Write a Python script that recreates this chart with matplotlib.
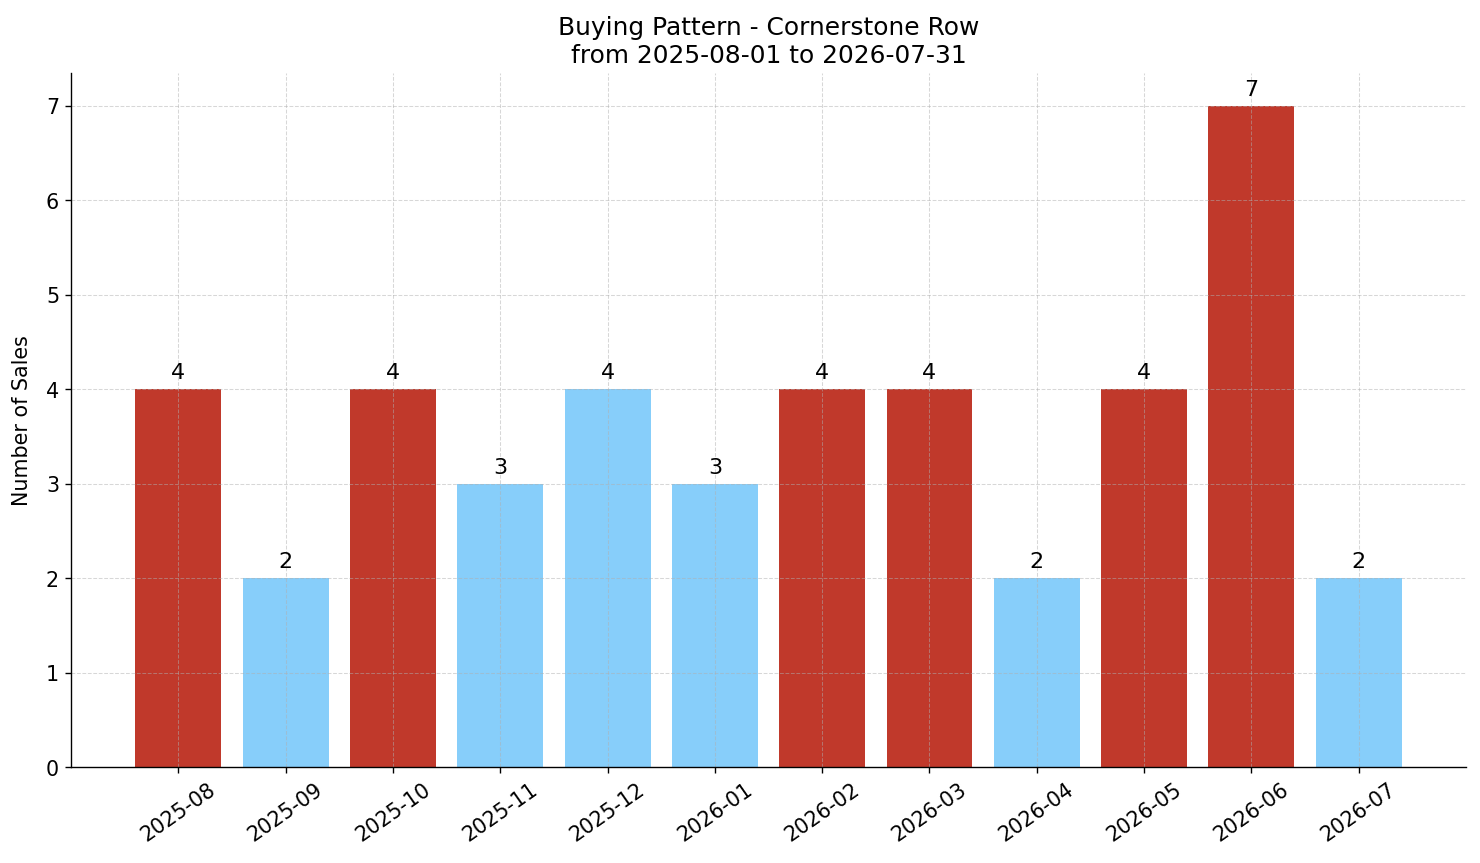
import matplotlib
matplotlib.use("Agg")
import matplotlib.pyplot as plt

months = ["2025-08", "2025-09", "2025-10", "2025-11", "2025-12", "2026-01",
          "2026-02", "2026-03", "2026-04", "2026-05", "2026-06", "2026-07"]
sales = [4, 2, 4, 3, 4, 3, 4, 4, 2, 4, 7, 2]
bar_colors = ["#c0392b", "#87cefa", "#c0392b", "#87cefa", "#87cefa", "#87cefa",
              "#c0392b", "#c0392b", "#87cefa", "#c0392b", "#c0392b", "#87cefa"]

fig, ax = plt.subplots(figsize=(12, 7), dpi=123.4)
x = list(range(len(months)))
bars = ax.bar(x, sales, width=0.8, color=bar_colors)
for b, v in zip(bars, sales):
    ax.text(b.get_x() + b.get_width() / 2, v + 0.07, str(v),
            ha="center", va="bottom", fontsize=13)

ax.set_xticks(x)
ax.set_xticklabels(months, rotation=35, fontsize=12)
ax.tick_params(axis="y", labelsize=12)
ax.set_xlim(-1, 12)
ax.set_ylim(0, max(sales) * 1.05)
ax.set_ylabel("Number of Sales", fontsize=12, labelpad=8)
ax.set_title("Buying Pattern - Cornerstone Row\nfrom 2025-08-01 to 2026-07-31", fontsize=14.5)
# grid drawn over the bars, faint
ax.grid(True, linestyle="--", linewidth=0.6, alpha=0.5)
ax.spines["top"].set_visible(False)
ax.spines["right"].set_visible(False)

fig.subplots_adjust(left=0.048, right=0.99, bottom=0.111, top=0.915)
plt.savefig("out.png", dpi=123.4)
